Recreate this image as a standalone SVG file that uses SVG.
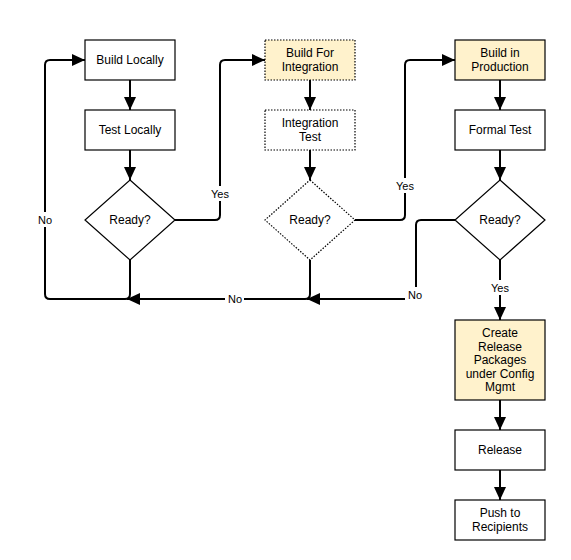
<svg xmlns="http://www.w3.org/2000/svg" width="571" height="560" viewBox="0 0 571 560">
<style>
.box{fill:#ffffff;stroke:#000000;stroke-width:1.2}
.hl{fill:#fff2cc}
.dot{stroke-dasharray:1.5 1.5}
.t{font-family:"Liberation Sans",Arial,sans-serif;font-size:12px;fill:#000;text-anchor:middle}
.lbl{font-family:"Liberation Sans",Arial,sans-serif;font-size:11px;fill:#000;text-anchor:middle}
.c{fill:none;stroke:#000;stroke-width:2;marker-end:url(#arr)}
.bg{fill:#ffffff}
</style>
<defs>
<marker id="arr" markerUnits="userSpaceOnUse" markerWidth="14" markerHeight="14" refX="13" refY="6.5" orient="auto" viewBox="0 0 14 13">
<path d="M0,0.5 L13,6.5 L0,12.5 z" fill="#000"/>
</marker>
</defs>
<rect width="571" height="560" fill="#ffffff"/>

<g id="connectors">
<path class="c" d="M130,80 L130,110"/>
<path class="c" d="M130,150 L130,180"/>
<path class="c" d="M175,220 L215,220 Q220,220 220,215 L220,65 Q220,60 225,60 L265,60"/>
<path class="c" d="M130,260 L130,294 Q130,299 125,299 L50,299 Q45,299 45,294 L45,65 Q45,60 50,60 L85,60"/>
<path class="c" d="M310,80 L310,110"/>
<path class="c" d="M310,150 L310,180"/>
<path class="c" d="M355,220 L400,220 Q405,220 405,215 L405,65 Q405,60 410,60 L455,60"/>
<path class="c" d="M310,260 L310,294 Q310,299 305,299 L127,299"/>
<path class="c" d="M500,80 L500,110"/>
<path class="c" d="M500,150 L500,180"/>
<path class="c" d="M455,220 L421,220 Q416,220 416,225 L416,294 Q416,299 411,299 L307,299"/>
<path class="c" d="M500,260 L500,320"/>
<path class="c" d="M500,400 L500,430"/>
<path class="c" d="M500,470 L500,500"/>
<g id="edge-labels">
<rect class="bg" x="36" y="212" width="18" height="15"/>
<text class="lbl" x="45" y="220" dy="0.35em">No</text>
<rect class="bg" x="209" y="186" width="22" height="15"/>
<text class="lbl" x="220" y="194" dy="0.35em">Yes</text>
<rect class="bg" x="225" y="291" width="19" height="15"/>
<text class="lbl" x="235" y="299" dy="0.35em">No</text>
<rect class="bg" x="394" y="178" width="22" height="15"/>
<text class="lbl" x="405" y="186" dy="0.35em">Yes</text>
<rect class="bg" x="405" y="287" width="19" height="15"/>
<text class="lbl" x="415" y="295" dy="0.35em">No</text>
<rect class="bg" x="489" y="280" width="22" height="15"/>
<text class="lbl" x="500" y="288" dy="0.35em">Yes</text>
</g>
</g>

<g id="build-locally">
<rect class="box" x="85" y="40" width="90" height="40"/>
<text class="t" x="130" y="60" dy="0.35em">Build Locally</text>
</g>
<g id="test-locally">
<rect class="box" x="85" y="110" width="90" height="40"/>
<text class="t" x="130" y="130" dy="0.35em">Test Locally</text>
</g>
<g id="ready-1">
<polygon class="box" points="130,180 175,220 130,260 85,220"/>
<text class="t" x="130" y="220" dy="0.35em">Ready?</text>
</g>

<g id="build-for-integration">
<rect class="box hl dot" x="265" y="40" width="90" height="40"/>
<text class="t" x="310" y="53" dy="0.35em">Build For</text>
<text class="t" x="310" y="67" dy="0.35em">Integration</text>
</g>
<g id="integration-test">
<rect class="box dot" x="265" y="110" width="90" height="40"/>
<text class="t" x="310" y="123" dy="0.35em">Integration</text>
<text class="t" x="310" y="137" dy="0.35em">Test</text>
</g>
<g id="ready-2">
<polygon class="box dot" points="310,180 355,220 310,260 265,220"/>
<text class="t" x="310" y="220" dy="0.35em">Ready?</text>
</g>

<g id="build-in-production">
<rect class="box hl" x="455" y="40" width="90" height="40"/>
<text class="t" x="500" y="53" dy="0.35em">Build in</text>
<text class="t" x="500" y="67" dy="0.35em">Production</text>
</g>
<g id="formal-test">
<rect class="box" x="455" y="110" width="90" height="40"/>
<text class="t" x="500" y="130" dy="0.35em">Formal Test</text>
</g>
<g id="ready-3">
<polygon class="box" points="500,180 545,220 500,260 455,220"/>
<text class="t" x="500" y="220" dy="0.35em">Ready?</text>
</g>
<g id="create-release-packages">
<rect class="box hl" x="455" y="320" width="90" height="80"/>
<text class="t" x="500" y="333" dy="0.35em">Create</text>
<text class="t" x="500" y="346.5" dy="0.35em">Release</text>
<text class="t" x="500" y="360" dy="0.35em">Packages</text>
<text class="t" x="500" y="373.5" dy="0.35em">under Config</text>
<text class="t" x="500" y="387" dy="0.35em">Mgmt</text>
</g>
<g id="release">
<rect class="box" x="455" y="430" width="90" height="40"/>
<text class="t" x="500" y="450" dy="0.35em">Release</text>
</g>
<g id="push-to-recipients">
<rect class="box" x="455" y="500" width="90" height="40"/>
<text class="t" x="500" y="513" dy="0.35em">Push to</text>
<text class="t" x="500" y="527" dy="0.35em">Recipients</text>
</g>
</svg>
